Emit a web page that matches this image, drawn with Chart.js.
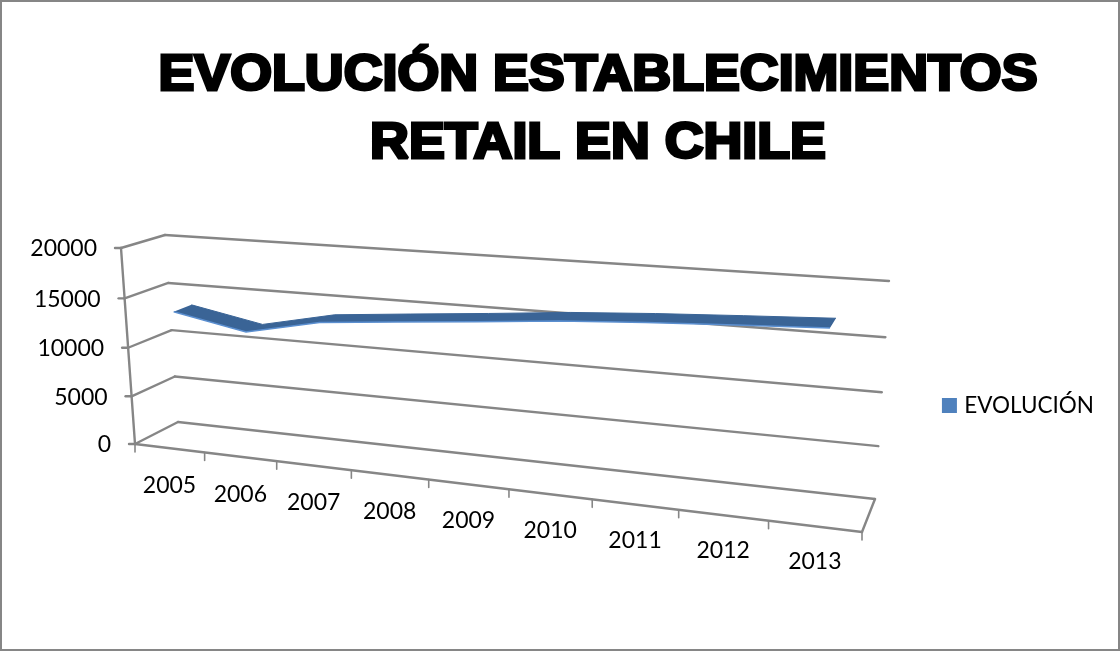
<!DOCTYPE html>
<html>
<head>
<meta charset="utf-8">
<title>Evolución establecimientos retail en Chile</title>
<script src="https://cdn.jsdelivr.net/npm/chart.js@4"></script>
<style>
  html, body { margin: 0; padding: 0; background: #fff; }
  canvas { display: block; }
</style>
</head>
<body>
<canvas id="mainChart" width="1120" height="651"></canvas>
<script>
"use strict";

const years = ["2005", "2006", "2007", "2008", "2009", "2010", "2011", "2012", "2013"];
const evolucion = [13470, 12060, 13650, 14330, 14990, 15690, 16190, 16600, 16980];
const titleLines = ["EVOLUCIÓN ESTABLECIMIENTOS", "RETAIL EN CHILE"];

const gridColor = "#868686";
const labelFont = "23px Lato";

// corners of the 3D box on the canvas: bottom/top, left/right, front/back
const box = {
    front: { bl: [135, 444], br: [862, 532], tr: [877, 303], tl: [121, 248] },
    back: { bl: [178, 422], br: [875, 499], tr: [889, 281], tl: [165, 235] }
};
const ribbonFront = 0.3;
const ribbonBack = 0.72;

function lerp(a, b, t) {
    return [a[0] + (b[0] - a[0]) * t, a[1] + (b[1] - a[1]) * t];
}

// perspective map of the unit square onto the plane at depth w
function project(u, v, w) {
    const p00 = lerp(box.front.bl, box.back.bl, w);
    const p10 = lerp(box.front.br, box.back.br, w);
    const p11 = lerp(box.front.tr, box.back.tr, w);
    const p01 = lerp(box.front.tl, box.back.tl, w);
    const dx1 = p10[0] - p11[0], dx2 = p01[0] - p11[0], sx = p00[0] - p10[0] + p11[0] - p01[0];
    const dy1 = p10[1] - p11[1], dy2 = p01[1] - p11[1], sy = p00[1] - p10[1] + p11[1] - p01[1];
    const det = dx1 * dy2 - dx2 * dy1;
    const g = (sx * dy2 - dx2 * sy) / det;
    const h = (dx1 * sy - sx * dy1) / det;
    const d = g * u + h * v + 1;
    return [
        ((p10[0] - p00[0] + g * p10[0]) * u + (p01[0] - p00[0] + h * p01[0]) * v + p00[0]) / d,
        ((p10[1] - p00[1] + g * p10[1]) * u + (p01[1] - p00[1] + h * p01[1]) * v + p00[1]) / d
    ];
}

function unitX(chart, px) {
    return (px - chart.chartArea.left) / chart.chartArea.width;
}

function unitY(chart, px) {
    return (chart.chartArea.bottom - px) / chart.chartArea.height;
}

function segment(ctx, a, b) {
    ctx.beginPath();
    ctx.moveTo(a[0], a[1]);
    ctx.lineTo(b[0], b[1]);
    ctx.stroke();
}

// moves the line points from the flat scales into the box
const depthPlugin = {
    id: "depth",
    afterDatasetsUpdate(chart) {
        chart.data.datasets.forEach(function (ds, idx) {
            chart.getDatasetMeta(idx).data.forEach(function (pt) {
                const p = project(unitX(chart, pt.x), unitY(chart, pt.y), ds.depth);
                pt.x = p[0];
                pt.y = p[1];
            });
        });
    },
    beforeDatasetsDraw(chart) {
        const ctx = chart.ctx;
        const x = chart.scales.x;
        const y = chart.scales.y;
        ctx.save();
        ctx.strokeStyle = gridColor;
        ctx.lineWidth = 2.4;
        ctx.lineCap = "round";
        ctx.fillStyle = "#000";
        ctx.font = labelFont;

        // value gridlines: left wall and back wall, with the labels on the front edge
        ctx.textAlign = "right";
        ctx.textBaseline = "middle";
        y.ticks.forEach(function (tick) {
            const v = unitY(chart, y.getPixelForValue(tick.value));
            const front = project(0, v, 0);
            const back = project(0, v, 1);
            segment(ctx, [front[0] - 6, front[1]], front);
            segment(ctx, front, back);
            segment(ctx, back, project(1, v, 1));
            ctx.fillText(String(tick.value), front[0] - 24, front[1] + 1);
        });
        segment(ctx, project(0, 0, 0), project(0, 1, 0));

        // floor outline and category ticks
        segment(ctx, project(0, 0, 0), project(1, 0, 0));
        segment(ctx, project(1, 0, 0), project(1, 0, 1));
        const band = x.width / years.length;
        ctx.textAlign = "center";
        ctx.lineWidth = 1.6;
        for (let i = 0; i <= years.length; i++) {
            const u = unitX(chart, x.getPixelForValue(0) - band / 2 + band * i);
            const p = project(u, 0, 0);
            segment(ctx, p, [p[0], p[1] + 8]);
        }
        years.forEach(function (label, i) {
            const u = unitX(chart, x.getPixelForValue(i));
            const p = project(u, 0, 0);
            ctx.fillText(label, p[0], p[1] + 38 - 3 * u);
        });

        // top face of the ribbon between the front and back edge lines
        const front = chart.getDatasetMeta(0).data;
        const back = chart.getDatasetMeta(1).data;
        ctx.fillStyle = "#3A6496";
        ctx.beginPath();
        front.forEach(function (pt, i) {
            if (i === 0) {
                ctx.moveTo(pt.x, pt.y);
            } else {
                ctx.lineTo(pt.x, pt.y);
            }
        });
        for (let i = back.length - 1; i >= 0; i--) {
            ctx.lineTo(back[i].x, back[i].y);
        }
        ctx.closePath();
        ctx.fill();
        ctx.restore();
    },
    afterDraw(chart) {
        const ctx = chart.ctx;
        ctx.save();
        ctx.strokeStyle = gridColor;
        ctx.lineWidth = 2;
        ctx.strokeRect(1, 1, 1118, 649);

        // title is wider and heavier than the bold face, so stretch and outline it
        ctx.fillStyle = "#000";
        ctx.strokeStyle = "#000";
        ctx.lineWidth = 3;
        ctx.lineJoin = "miter";
        ctx.miterLimit = 2;
        ctx.font = "bold 50px 'Liberation Sans'";
        ctx.textAlign = "center";
        ctx.textBaseline = "alphabetic";
        ctx.translate(598, 0);
        ctx.scale(1.075, 1);
        titleLines.forEach(function (line, i) {
            ctx.fillText(line, 0, 90 + 68 * i);
            ctx.strokeText(line, 0, 90 + 68 * i);
        });
        ctx.restore();
    }
};

var chart = new Chart(document.getElementById("mainChart"), {
    type: "line",
    data: {
        labels: years,
        datasets: [{
            label: "EVOLUCIÓN",
            data: evolucion,
            depth: ribbonFront,
            borderColor: "#5B8FD0",
            backgroundColor: "#4F81BD",
            borderWidth: 1.6,
            pointRadius: 0,
            clip: false
        }, {
            label: "fondo",
            data: evolucion,
            depth: ribbonBack,
            borderColor: "#3A6496",
            backgroundColor: "#3A6496",
            borderWidth: 1,
            pointRadius: 0,
            clip: false
        }]
    },
    options: {
        responsive: false,
        animation: false,
        layout: { padding: { top: 160, right: 16 } },
        scales: {
            x: { display: false, offset: true },
            y: { display: false, min: 0, max: 20000, ticks: { stepSize: 5000 } }
        },
        plugins: {
            tooltip: { enabled: false },
            legend: {
                position: "right",
                labels: {
                    boxWidth: 7,
                    boxHeight: 7,
                    padding: 10,
                    color: "#000",
                    font: { family: "Lato", size: 22.5 },
                    generateLabels: function (chart) {
                        return [{
                            text: chart.data.datasets[0].label,
                            fillStyle: "#4F81BD",
                            strokeStyle: "#4F81BD",
                            lineWidth: 8,
                            datasetIndex: 0
                        }];
                    }
                }
            }
        }
    },
    plugins: [depthPlugin]
});
</script>
</body>
</html>
